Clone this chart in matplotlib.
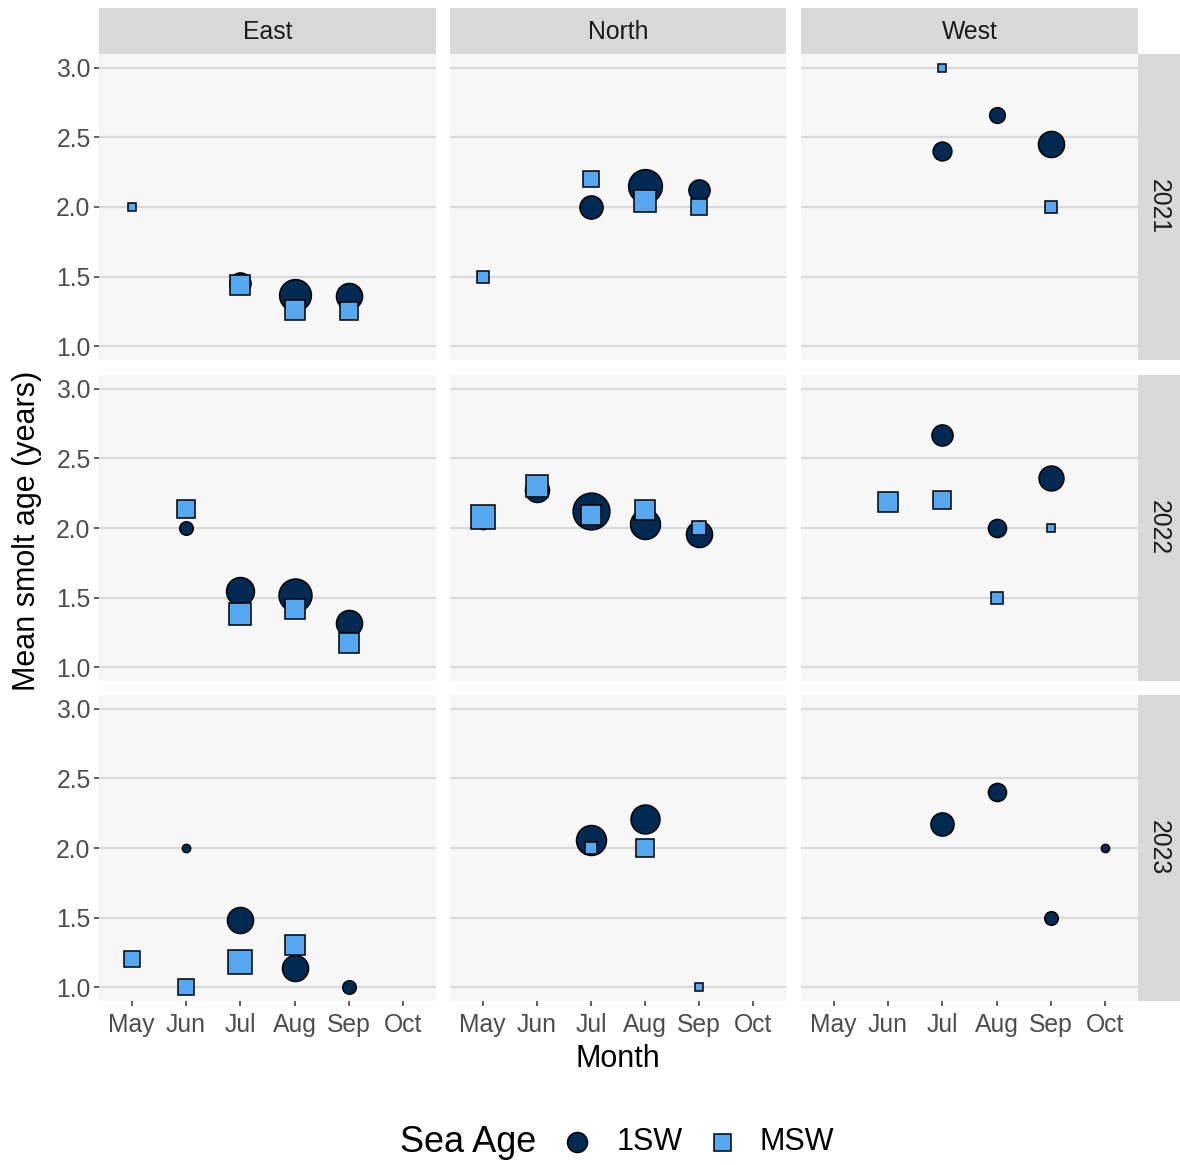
import numpy as np
import matplotlib
matplotlib.use("Agg")
import matplotlib.pyplot as plt

plt.rcParams['font.family'] = ['Liberation Sans', 'DejaVu Sans']

# ---------------- data ----------------
regions = ["East", "North", "West"]
years = ["2021", "2022", "2023"]
month_labels = ["May", "Jun", "Jul", "Aug", "Sep", "Oct"]
sea_ages = ["1SW", "MSW"]

pt_region = (["East"] * 7 + ["North"] * 7 + ["West"] * 5 +
             ["East"] * 8 + ["North"] * 10 + ["West"] * 7 +
             ["East"] * 8 + ["North"] * 5 + ["West"] * 4)
pt_year = (["2021"] * 19 + ["2022"] * 25 + ["2023"] * 17)
pt_age = [
    # East 2021
    "MSW", "1SW", "MSW", "1SW", "MSW", "1SW", "MSW",
    # North 2021
    "MSW", "MSW", "1SW", "1SW", "MSW", "1SW", "MSW",
    # West 2021
    "MSW", "1SW", "1SW", "1SW", "MSW",
    # East 2022
    "1SW", "MSW", "1SW", "MSW", "1SW", "MSW", "1SW", "MSW",
    # North 2022
    "1SW", "MSW", "1SW", "MSW", "1SW", "MSW", "1SW", "MSW", "1SW", "MSW",
    # West 2022
    "MSW", "1SW", "MSW", "1SW", "MSW", "1SW", "MSW",
    # East 2023
    "MSW", "1SW", "MSW", "1SW", "MSW", "1SW", "MSW", "1SW",
    # North 2023
    "1SW", "MSW", "1SW", "MSW", "MSW",
    # West 2023
    "1SW", "1SW", "1SW", "1SW",
]
pt_month = [
    "May", "Jul", "Jul", "Aug", "Aug", "Sep", "Sep",
    "May", "Jul", "Jul", "Aug", "Aug", "Sep", "Sep",
    "Jul", "Jul", "Aug", "Sep", "Sep",
    "Jun", "Jun", "Jul", "Jul", "Aug", "Aug", "Sep", "Sep",
    "May", "May", "Jun", "Jun", "Jul", "Jul", "Aug", "Aug", "Sep", "Sep",
    "Jun", "Jul", "Jul", "Aug", "Aug", "Sep", "Sep",
    "May", "Jun", "Jun", "Jul", "Jul", "Aug", "Aug", "Sep",
    "Jul", "Jul", "Aug", "Aug", "Sep",
    "Jul", "Aug", "Sep", "Oct",
]
pt_mean_age = [
    2.00, 1.45, 1.44, 1.37, 1.26, 1.36, 1.25,
    1.50, 2.20, 2.00, 2.15, 2.04, 2.12, 2.00,
    3.00, 2.40, 2.66, 2.45, 2.00,
    2.00, 2.14, 1.55, 1.38, 1.52, 1.42, 1.32, 1.17,
    2.02, 2.08, 2.27, 2.30, 2.12, 2.09, 2.03, 2.13, 1.955, 2.00,
    2.185, 2.67, 2.20, 2.00, 1.50, 2.36, 2.00,
    1.20, 2.00, 1.00, 1.48, 1.18, 1.14, 1.30, 1.00,
    2.06, 2.00, 2.21, 2.00, 1.00,
    2.17, 2.40, 1.50, 2.00,
]
pt_n = [
    1, 13, 16, 41, 18, 24, 12,
    4, 8, 17, 48, 24, 13, 8,
    1, 9, 5, 24, 3,
    3, 12, 29, 24, 45, 18, 24, 16,
    1, 27, 19, 24, 60, 16, 35, 14, 24, 5,
    16, 13, 10, 8, 4, 21, 1,
    8, 1, 8, 24, 27, 24, 14, 3,
    35, 4, 32, 10, 1,
    17, 8, 3, 1,
]

# ---------------- styling ----------------
W, H = 1180, 1165
DPI = 100
fig = plt.figure(figsize=(W / DPI, H / DPI), dpi=DPI)

col_px = [(99, 436), (450, 786), (801, 1138)]
row_px = [(54, 360), (375, 681), (695, 1001)]
strip_top = (8, 54)
strip_right = (1138, 1180)

fill = {"1SW": "#012A53", "MSW": "#56A9F0"}
marker = {"1SW": "o", "MSW": "s"}
panel_bg = "#F7F7F7"
grid_col = "#DADADA"
strip_bg = "#D9D9D9"
tick_text = "#4D4D4D"
tick_col = "#333333"

PX2PT = 72.0 / DPI
n_min, n_max = min(pt_n), max(pt_n)
d_min, d_max = 9.5, 38.0  # diameter range in px


def diam_px(n):
    return d_min + (d_max - d_min) * np.sqrt((n - n_min) / (n_max - n_min))


def box(x0, x1, y0, y1):
    return [x0 / W, 1 - y1 / H, (x1 - x0) / W, (y1 - y0) / H]


month_pos = {m: i + 1 for i, m in enumerate(month_labels)}

for ri, yr in enumerate(years):
    for ci, rg in enumerate(regions):
        x0, x1 = col_px[ci]
        y0, y1 = row_px[ri]
        ax = fig.add_axes(box(x0, x1, y0, y1))
        ax.set_facecolor(panel_bg)
        for s in ax.spines.values():
            s.set_visible(False)
        ax.set_xlim(0.4, 6.6)
        ax.set_ylim(0.9, 3.1)
        ax.set_yticks([1.0, 1.5, 2.0, 2.5, 3.0])
        ax.set_xticks(range(1, 7))
        ax.yaxis.grid(True, color=grid_col, linewidth=1.6)
        ax.xaxis.grid(False)
        ax.set_axisbelow(True)
        ax.tick_params(axis='both', length=3.6, width=1.1, color=tick_col,
                       labelsize=17.8, labelcolor=tick_text, pad=2.5)
        ax.tick_params(axis='x', pad=5.0)
        if ci == 0:
            ax.set_yticklabels(["1.0", "1.5", "2.0", "2.5", "3.0"])
        else:
            ax.tick_params(axis='y', length=0, labelleft=False)
        if ri == len(years) - 1:
            ax.set_xticklabels(month_labels)
        else:
            ax.tick_params(axis='x', length=0, labelbottom=False)

        for age in sea_ages:
            for i in range(len(pt_n)):
                if pt_region[i] != rg or pt_year[i] != yr or pt_age[i] != age:
                    continue
                d = diam_px(pt_n[i])
                if age == "MSW":
                    d = d * 0.886
                ms = (d - 1.2) * PX2PT
                ax.plot(month_pos[pt_month[i]], pt_mean_age[i],
                        marker=marker[age], markersize=ms,
                        markerfacecolor=fill[age], markeredgecolor="black",
                        markeredgewidth=1.1, linestyle="none",
                        zorder=3 if age == "1SW" else 4, clip_on=False)

        # top strip
        if ri == 0:
            sax = fig.add_axes(box(x0, x1, strip_top[0], strip_top[1]))
            sax.set_facecolor(strip_bg)
            sax.set_xticks([]); sax.set_yticks([])
            for s in sax.spines.values():
                s.set_visible(False)
            sax.text(0.5, 0.47, rg, ha="center", va="center",
                     fontsize=17.8, color="#1A1A1A", transform=sax.transAxes)
        # right strip
        if ci == len(regions) - 1:
            rax = fig.add_axes(box(strip_right[0], strip_right[1], y0, y1))
            rax.set_facecolor(strip_bg)
            rax.set_xticks([]); rax.set_yticks([])
            for s in rax.spines.values():
                s.set_visible(False)
            rax.text(0.5, 0.5, yr, ha="center", va="center", rotation=270,
                     fontsize=17.8, color="#1A1A1A", transform=rax.transAxes)

# axis titles
fig.text(618 / W, 1 - 1059 / H, "Month", ha="center", va="center",
         fontsize=22, color="black")
fig.text(27 / W, 1 - 531 / H, "Mean smolt age (years)", ha="center",
         va="center", rotation=90, fontsize=22, color="black")

# legend (drawn in pixel coordinates)
lax = fig.add_axes([0, 0, 1, 1])
lax.set_xlim(0, W)
lax.set_ylim(H, 0)
lax.axis("off")
ly = 1142
lax.text(400, ly, "Sea Age", ha="left", va="center", fontsize=26, color="black")
lax.plot(577, ly, marker="o", markersize=20 * PX2PT, markerfacecolor=fill["1SW"],
         markeredgecolor="black", markeredgewidth=1.1, linestyle="none")
lax.text(617, ly, "1SW", ha="left", va="center", fontsize=22, color="black")
lax.plot(722, ly, marker="s", markersize=17 * PX2PT, markerfacecolor=fill["MSW"],
         markeredgecolor="black", markeredgewidth=1.1, linestyle="none")
lax.text(760, ly, "MSW", ha="left", va="center", fontsize=22, color="black")

fig.savefig("out.png", dpi=DPI, facecolor="white")
